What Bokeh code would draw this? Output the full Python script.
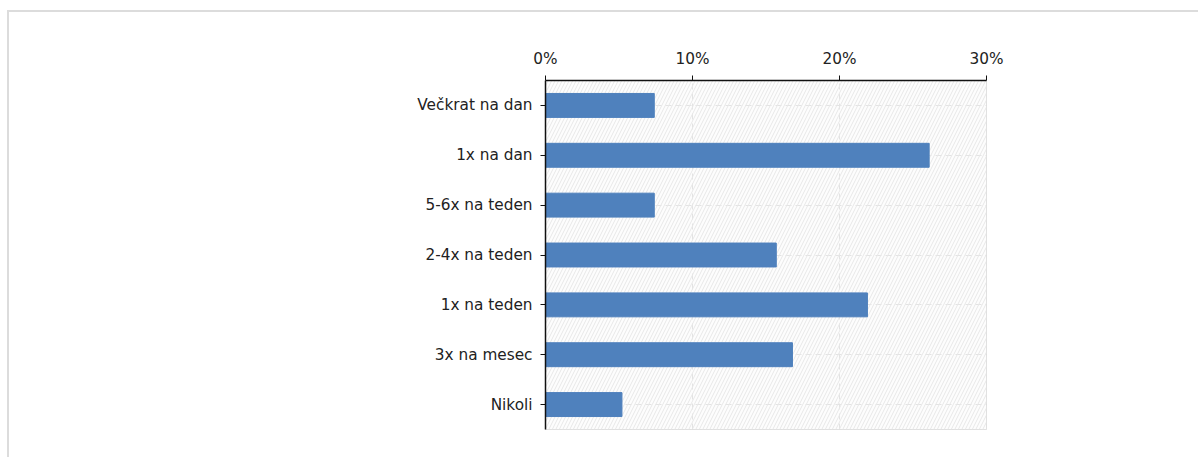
from bokeh.plotting import figure
from bokeh.models import (ColumnDataSource, FactorRange, FixedTicker,
                          PrintfTickFormatter, BoxAnnotation)
from bokeh.embed import file_html
from bokeh.resources import INLINE

categories = ["Večkrat na dan", "1x na dan", "5-6x na teden", "2-4x na teden",
              "1x na teden", "3x na mesec", "Nikoli"]
values = [7.4, 26.1, 7.4, 15.7, 21.9, 16.8, 5.2]
x_ticks = [0, 10, 20, 30]

src = ColumnDataSource(dict(cat=categories, val=values))

p = figure(width=1191, height=447, output_backend="svg", toolbar_location=None,
           y_range=FactorRange(*reversed(categories), range_padding=0),
           x_range=(0, 30), x_axis_location="above",
           min_border_left=536, min_border_right=214, min_border_top=68,
           min_border_bottom=30)
p.styles = {"border-left": "2px solid #dcdcdc", "border-top": "2px solid #dcdcdc",
            "margin-left": "7px", "margin-top": "10px"}

bg = BoxAnnotation(fill_color="#fafafa", hatch_pattern="/", hatch_color="#e8e8e8",
                   hatch_scale=7, hatch_weight=1, line_color=None, level="underlay")
p.add_layout(bg)

p.hbar(y="cat", right="val", left=0, height=0.48, source=src,
       fill_color="#4f81bd", line_color="#4f81bd")

p.outline_line_color = "#dddddd"
p.xgrid.ticker = FixedTicker(ticks=x_ticks)
p.xgrid.grid_line_color = "#d4d4d4"
p.xgrid.grid_line_dash = "6 4"
p.ygrid.grid_line_color = "#d4d4d4"
p.ygrid.grid_line_dash = "6 4"

for ax in (p.xaxis[0], p.yaxis[0]):
    ax.axis_line_color = "#111111"
    ax.axis_line_width = 1.5
    ax.major_tick_line_color = "#111111"
    ax.major_tick_in = 0
    ax.major_tick_out = 5
    ax.minor_tick_line_color = None
    ax.major_label_text_font = "DejaVu Sans"
    ax.major_label_text_font_size = "15.3px"
    ax.major_label_text_color = "#222222"

p.xaxis.ticker = FixedTicker(ticks=x_ticks)
p.xaxis.formatter = PrintfTickFormatter(format="%d%%")
p.xaxis.major_label_standoff = 8
p.yaxis.major_label_standoff = 8

open("out.html", "w").write(file_html(p, INLINE))
